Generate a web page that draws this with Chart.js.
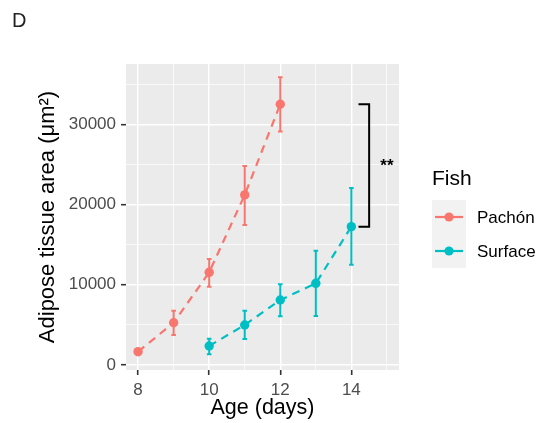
<!DOCTYPE html>
<html>
<head>
<meta charset="utf-8">
<script src="https://cdn.jsdelivr.net/npm/chart.js@4/dist/chart.umd.min.js"></script>
<style>
  html, body { margin:0; padding:0; background:#fff; }
  #wrap { width:554px; height:423px; position:relative; }
</style>
</head>
<body>
<div id="wrap"><canvas id="c"></canvas></div>
<script>
'use strict';

// data
const groups      = ['Pachón', 'Surface'];
const colors      = ['#F8766D', '#00BFC4'];
const pachonAge   = [8, 9, 10, 11, 12];
const pachonMean  = [1660, 5270, 11550, 21190, 32490];
const pachonLow   = [1660, 3740, 9760, 17450, 29080];
const pachonHigh  = [1660, 6770, 13210, 24800, 35860];
const surfaceAge  = [10, 11, 12, 13, 14];
const surfaceMean = [2370, 4990, 8100, 10180, 17240];
const surfaceLow  = [1330, 3240, 6070, 6110, 12500];
const surfaceHigh = [3280, 6770, 10060, 14250, 22060];
const bracketX    = [14.2, 14.5, 14.5, 14.2];
const bracketY    = [32490, 32490, 17240, 17240];
const sigLabel    = '**';
const xLabels     = [8, 10, 12, 14];
const yLabels     = [0, 10000, 20000, 30000];

const FONT = "'Liberation Sans', Arial, sans-serif";
const pts = (xs, ys) => xs.map((x, i) => ({ x, y: ys[i] }));

// major ticks plus the ggplot-style minor lines halfway between (and one past the end)
const withMinor = arr => {
    const step = arr[1] - arr[0], out = [];
    arr.forEach(v => { out.push(v); out.push(v + step / 2); });
    return out;
};

const errBars = [
    { xs: pachonAge,  lo: pachonLow,  hi: pachonHigh,  color: colors[0] },
    { xs: surfaceAge, lo: surfaceLow, hi: surfaceHigh, color: colors[1] }
];

const panelBg = {
    id: 'panelBg',
    beforeDraw(chart) {
        const { ctx, chartArea: a } = chart;
        ctx.save();
        ctx.fillStyle = '#EBEBEB';
        ctx.fillRect(a.left, a.top, a.right - a.left, a.bottom - a.top);
        ctx.restore();
    }
};

const extras = {
    id: 'extras',
    beforeDatasetsDraw(chart) {
        const { ctx, scales: { x, y } } = chart;
        ctx.save();
        ctx.lineWidth = 2;
        errBars.forEach(g => {
            ctx.strokeStyle = g.color;
            g.xs.forEach((v, i) => {
                if (g.lo[i] === g.hi[i]) return;
                const px = x.getPixelForValue(v), t = y.getPixelForValue(g.hi[i]), b = y.getPixelForValue(g.lo[i]);
                ctx.beginPath();
                ctx.moveTo(px, t); ctx.lineTo(px, b);
                ctx.moveTo(px - 2.3, t); ctx.lineTo(px + 2.3, t);
                ctx.moveTo(px - 2.3, b); ctx.lineTo(px + 2.3, b);
                ctx.stroke();
            });
        });
        ctx.restore();
    },
    afterDraw(chart) {
        const { ctx, scales: { x, y } } = chart;
        ctx.save();
        // significance stars
        ctx.fillStyle = '#000';
        ctx.font = 'bold 17px ' + FONT;
        ctx.textAlign = 'center'; ctx.textBaseline = 'middle';
        ctx.fillText(sigLabel, x.getPixelForValue(15.0), y.getPixelForValue(25000) + 2);
        // panel label
        ctx.font = '20px ' + FONT;
        ctx.fillStyle = '#222';
        ctx.textAlign = 'left';
        ctx.fillText('D', 12, 21);
        // legend
        ctx.fillStyle = '#000';
        ctx.font = '21px ' + FONT;
        ctx.fillText('Fish', 432, 179);
        ctx.fillStyle = '#F2F2F2';
        ctx.fillRect(432, 200, 34, 68);
        groups.forEach((g, i) => {
            const cy = 217 + i * 34;
            ctx.strokeStyle = colors[i]; ctx.lineWidth = 2.2;
            ctx.beginPath(); ctx.moveTo(435, cy); ctx.lineTo(463, cy); ctx.stroke();
            ctx.fillStyle = colors[i];
            ctx.beginPath(); ctx.arc(449, cy, 4.6, 0, Math.PI * 2); ctx.fill();
            ctx.fillStyle = '#000';
            ctx.font = '17px ' + FONT;
            ctx.fillText(g, 477, cy + 1);
        });
        ctx.restore();
    }
};

const isMajX = v => xLabels.includes(v);
const isMajY = v => yLabels.includes(v);

new Chart(document.getElementById('c'), {
    type: 'scatter',
    data: {
        datasets: [
            { label: groups[0], data: pts(pachonAge, pachonMean), showLine: true, borderColor: colors[0], backgroundColor: colors[0],
              borderWidth: 2.2, borderDash: [8, 6], pointRadius: 4.7, pointBorderWidth: 0, order: 2 },
            { label: groups[1], data: pts(surfaceAge, surfaceMean), showLine: true, borderColor: colors[1], backgroundColor: colors[1],
              borderWidth: 2.2, borderDash: [8, 6], pointRadius: 4.7, pointBorderWidth: 0, order: 2 },
            { label: 'bracket', data: pts(bracketX, bracketY), showLine: true, borderColor: '#000', borderWidth: 2,
              pointRadius: 0, order: 1 }
        ]
    },
    options: {
        responsive: true, maintainAspectRatio: false, animation: false,
        layout: { padding: { left: 0, right: 155, top: 64, bottom: 0 } },
        plugins: { legend: { display: false }, tooltip: { enabled: false } },
        scales: {
            x: {
                type: 'linear', min: 7.66, max: 15.34,
                afterFit(s) { s.height = 53; },
                afterBuildTicks(s) { s.ticks = withMinor(xLabels).map(value => ({ value })); },
                border: { display: false },
                grid: {
                    color: '#FFFFFF',
                    lineWidth: c => isMajX(c.tick.value) ? 1.4 : 0.7,
                    tickColor: c => isMajX(c.tick.value) ? '#333333' : 'rgba(0,0,0,0)',
                    tickWidth: 1.6, tickLength: 5
                },
                ticks: {
                    padding: 5, maxRotation: 0, autoSkip: false,
                    color: '#4D4D4D', font: { family: FONT, size: 17 },
                    callback: v => isMajX(v) ? String(v) : ''
                },
                title: { display: true, text: 'Age (days)', color: '#000', font: { family: FONT, size: 21.5, lineHeight: 1 }, padding: { top: 0, bottom: 4 } }
            },
            y: {
                type: 'linear', min: -620, max: 37500,
                afterFit(s) { s.width = 126; },
                afterBuildTicks(s) { s.ticks = withMinor(yLabels).map(value => ({ value })); },
                border: { display: false },
                grid: {
                    color: '#FFFFFF',
                    lineWidth: c => isMajY(c.tick.value) ? 1.4 : 0.7,
                    tickColor: c => isMajY(c.tick.value) ? '#333333' : 'rgba(0,0,0,0)',
                    tickWidth: 1.6, tickLength: 5
                },
                ticks: {
                    padding: 5, autoSkip: false,
                    color: '#4D4D4D', font: { family: FONT, size: 17 },
                    callback: v => isMajY(v) ? String(v) : ''
                },
                title: { display: true, text: 'Adipose tissue area (μm²)', color: '#000', font: { family: FONT, size: 22, lineHeight: 1 }, padding: { top: 37, bottom: 0 } }
            }
        }
    },
    plugins: [panelBg, extras]
});
</script>
</body>
</html>
